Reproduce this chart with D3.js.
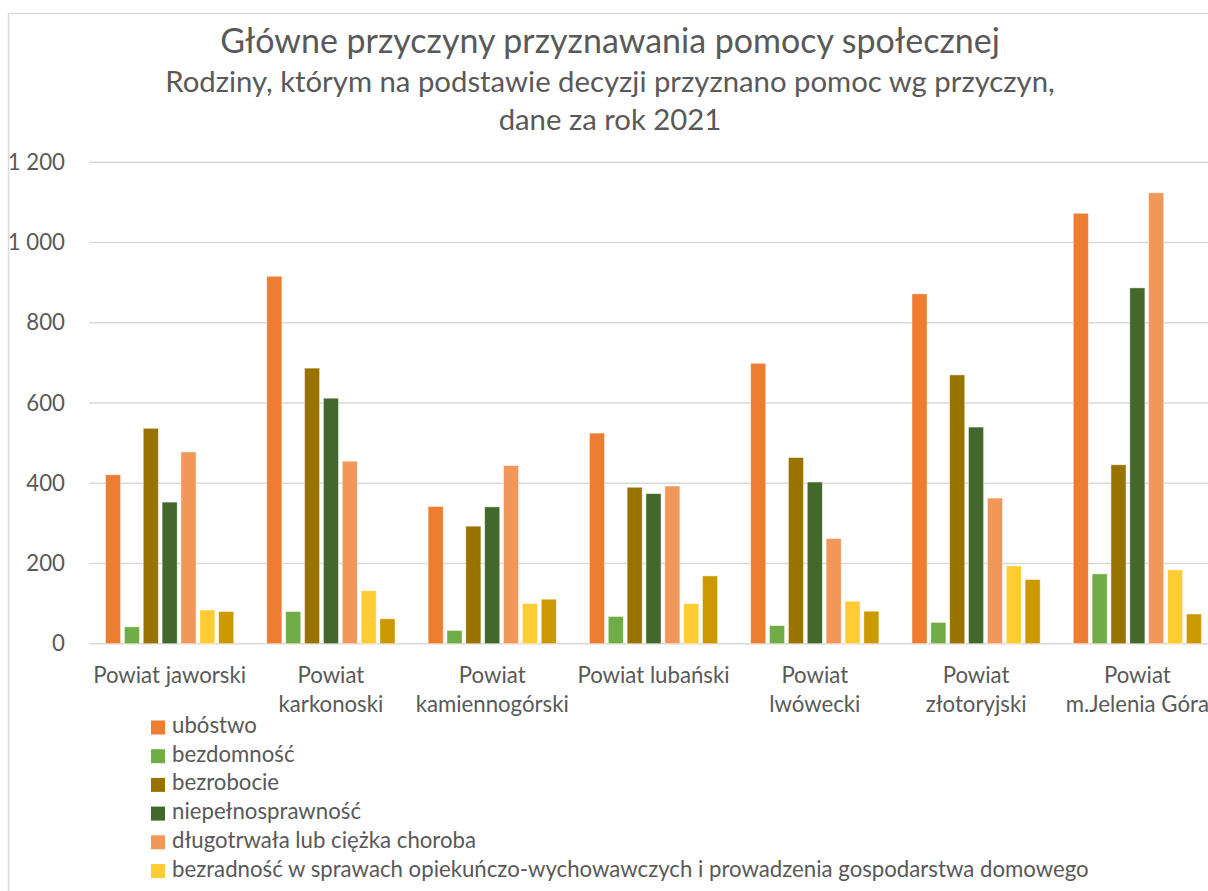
<!DOCTYPE html>
<html>
<head>
<meta charset="utf-8">
<script src="https://cdn.jsdelivr.net/npm/d3@7"></script>
<style>
  body { margin: 0; background: #fff; }
  svg { display: block; }
  text { font-family: Lato, "Open Sans", sans-serif; fill: #595959; }
</style>
</head>
<body>
<div class="chart-wrapper"></div>
<script>
var width = 1208, height = 891;

var categories = ["Powiat jaworski", "Powiat karkonoski", "Powiat kamiennogórski", "Powiat lubański",
  "Powiat lwówecki", "Powiat złotoryjski", "Powiat m.Jelenia Góra"];

var seriesNames = ["ubóstwo", "bezdomność", "bezrobocie", "niepełnosprawność",
  "długotrwała lub ciężka choroba",
  "bezradność w sprawach opiekuńczo-wychowawczych i prowadzenia gospodarstwa domowego",
  "alkoholizm"];

var colors = ["#ED7D31", "#70AD47", "#997300", "#43682B", "#F1975A", "#FFCD33", "#CC9A00"];

// values per series, in category order
var ubostwo = [421, 916, 342, 525, 699, 872, 1073];
var bezdomnosc = [42, 80, 33, 68, 45, 53, 174];
var bezrobocie = [537, 687, 293, 390, 464, 670, 446];
var niepelnosprawnosc = [353, 612, 341, 374, 403, 540, 887];
var choroba = [478, 455, 444, 393, 262, 363, 1124];
var bezradnosc = [84, 132, 100, 100, 106, 194, 184];
var alkoholizm = [80, 62, 111, 169, 81, 160, 74];

var yTicks = [0, 200, 400, 600, 800, 1000, 1200];

var titleText = "Główne przyczyny przyznawania pomocy społecznej";
var subtitleLines = ["Rodziny, którym na podstawie decyzji przyznano pomoc wg przyczyn,", "dane za rok 2021"];

var allSeries = [ubostwo, bezdomnosc, bezrobocie, niepelnosprawnosc, choroba, bezradnosc, alkoholizm];

var data = categories.map(function (c, i) {
  return { cat: c, values: seriesNames.map(function (s, j) { return { key: s, value: allSeries[j][i], idx: j }; }) };
});

var svg = d3.select(".chart-wrapper").append("svg")
  .attr("width", width)
  .attr("height", height);

// chart frame (right and bottom edges fall outside the picture)
svg.append("path")
  .attr("d", "M8.5,891 V13.5 H1212")
  .attr("fill", "none")
  .attr("stroke", "#d9d9d9")
  .attr("stroke-width", 1.5);

// fit a text element to a target width
function fit(sel, target) {
  sel.each(function () {
    var w = this.getComputedTextLength();
    var fs = parseFloat(d3.select(this).attr("font-size"));
    d3.select(this).attr("font-size", fs * target / w);
  });
}

var cx = 610;
svg.append("text")
  .attr("x", cx).attr("y", 53)
  .attr("text-anchor", "middle")
  .attr("font-size", 28)
  .text(titleText)
  .call(fit, 780);

var sub = svg.selectAll(".sub")
  .data(subtitleLines)
  .join("text")
  .attr("class", "sub")
  .attr("x", cx)
  .attr("y", function (d, i) { return 92 + i * 38; })
  .attr("text-anchor", "middle")
  .attr("font-size", 22)
  .text(function (d) { return d; });
sub.filter(function (d, i) { return i === 0; }).call(fit, 890);
sub.attr("font-size", sub.filter(function (d, i) { return i === 0; }).attr("font-size"));

// base label font size from a reference label
var probe = svg.append("text").attr("font-size", 20).text("Powiat jaworski");
fit(probe, 153);
var fs = parseFloat(probe.attr("font-size"));
probe.remove();

var x = d3.scaleBand()
  .domain(categories)
  .range([89, 1218])
  .paddingInner(0.205)
  .paddingOuter(0.1025);

var xs = d3.scaleBand()
  .domain(seriesNames)
  .range([0, x.bandwidth()])
  .paddingInner(0.2);

var y = d3.scaleLinear()
  .domain([0, 1200])
  .range([643.7, 162.3]);

var fmt = function (d) { return d3.format(",")(d).replace(/,/g, " "); };

// gridlines
svg.append("g")
  .selectAll("line")
  .data(yTicks)
  .join("line")
  .attr("x1", 89).attr("x2", 1218)
  .attr("y1", function (d) { return y(d); })
  .attr("y2", function (d) { return y(d); })
  .attr("stroke", "#d9d9d9")
  .attr("stroke-width", 1.5);

// y axis labels
var yAxis = svg.append("g")
  .attr("transform", "translate(65,0)")
  .call(d3.axisLeft(y).tickValues(yTicks).tickFormat(fmt).tickSize(0).tickPadding(0));
yAxis.select(".domain").remove();
yAxis.selectAll("text")
  .attr("font-size", fs)
  .attr("fill", "#595959")
  .style("font-family", "Lato, 'Open Sans', sans-serif");

// bars
svg.append("g")
  .selectAll("g")
  .data(data)
  .join("g")
  .attr("transform", function (d) { return "translate(" + x(d.cat) + ",0)"; })
  .selectAll("rect")
  .data(function (d) { return d.values; })
  .join("rect")
  .attr("x", function (d) { return xs(d.key); })
  .attr("width", xs.bandwidth())
  .attr("y", function (d) { return y(d.value); })
  .attr("height", function (d) { return y(0) - y(d.value); })
  .attr("fill", function (d) { return colors[d.idx]; })
  .attr("stroke", "#fff")
  .attr("stroke-opacity", 0.6)
  .attr("stroke-width", 0.75);

// x labels, wrapped to band step
var xl = svg.append("g")
  .selectAll("text")
  .data(categories)
  .join("text")
  .attr("x", function (d) { return x(d) + x.bandwidth() / 2; })
  .attr("y", 683)
  .attr("text-anchor", "middle")
  .attr("font-size", fs);

xl.each(function (d) {
  var t = d3.select(this);
  var words = d.split(" ");
  var lines = [], line = [];
  var tmp = svg.append("text").attr("font-size", fs);
  words.forEach(function (w) {
    var test = line.concat([w]).join(" ");
    tmp.text(test);
    if (line.length && tmp.node().getComputedTextLength() > x.step() - 4) {
      lines.push(line.join(" "));
      line = [w];
    } else {
      line.push(w);
    }
  });
  lines.push(line.join(" "));
  tmp.remove();
  t.selectAll("tspan")
    .data(lines)
    .join("tspan")
    .attr("x", t.attr("x"))
    .attr("dy", function (l, i) { return i ? 28.5 : 0; })
    .text(function (l) { return l; });
});

// legend: the chart box is taller than the picture, so only rows that fit are shown
var legendTop = 720.5, legendStep = 28.7;
var legendRows = seriesNames.filter(function (d, i) { return legendTop + i * legendStep + 16 <= height; });

var legend = svg.append("g")
  .selectAll("g")
  .data(legendRows)
  .join("g")
  .attr("transform", function (d, i) { return "translate(151," + (legendTop + i * legendStep) + ")"; });

legend.append("rect")
  .attr("width", 14).attr("height", 14)
  .attr("fill", function (d, i) { return colors[i]; });

legend.append("text")
  .attr("x", 21)
  .attr("y", 12.5)
  .attr("font-size", fs)
  .text(function (d) { return d; });
</script>
</body>
</html>
